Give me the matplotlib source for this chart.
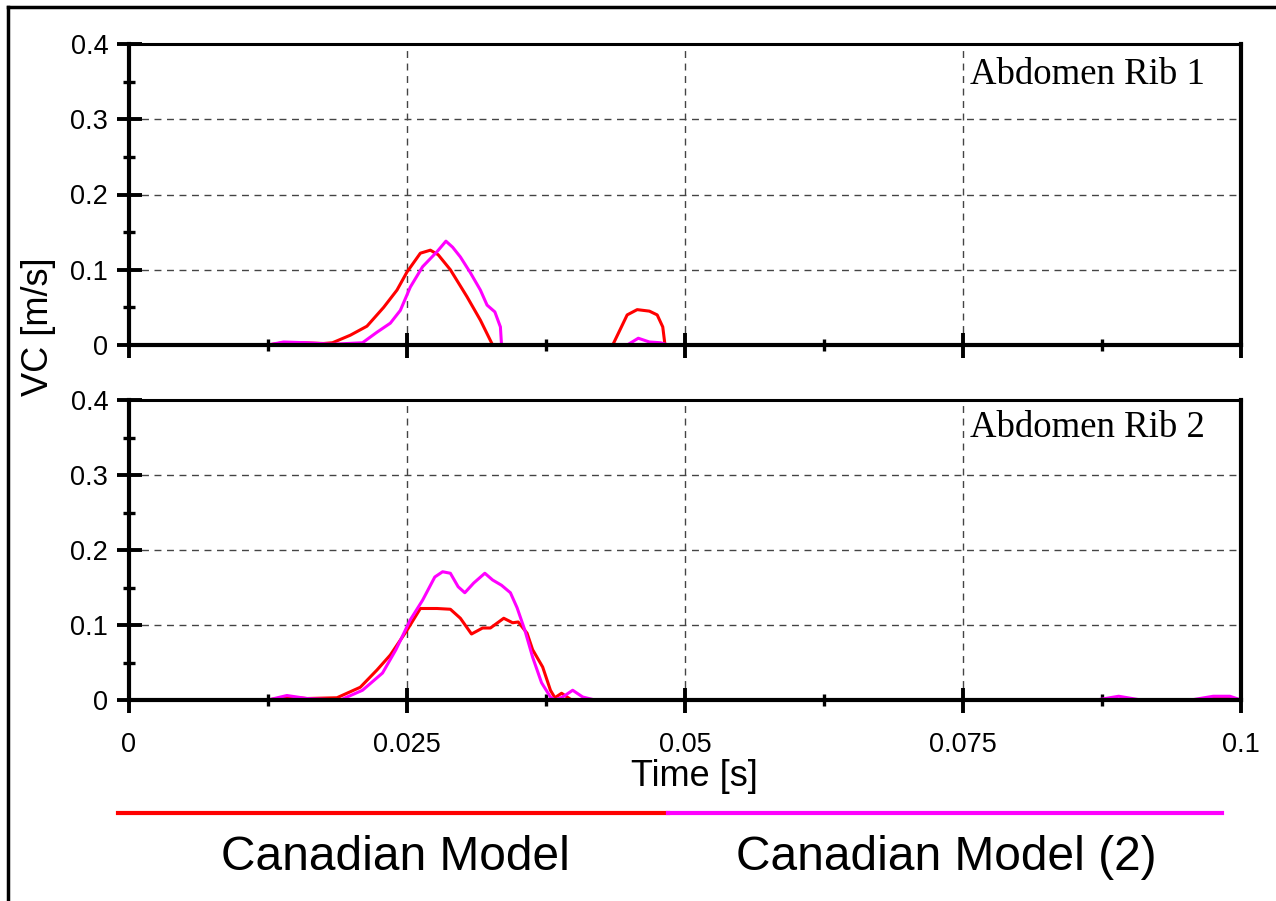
import matplotlib.pyplot as plt
from matplotlib.lines import Line2D
from matplotlib.ticker import MultipleLocator, FuncFormatter

# ---- data ----
rib1_red_t = [0, 0.0125, 0.0139, 0.0155, 0.0175, 0.0183, 0.0199, 0.0214, 0.0229, 0.0241,
              0.025, 0.0262, 0.0271, 0.0278, 0.0289, 0.0304, 0.0316, 0.0327,
              0.0435, 0.0448, 0.0457, 0.0468, 0.0475, 0.048, 0.0482, 0.1]
rib1_red_v = [0, 0, 0.003, 0.003, 0.002, 0.003, 0.013, 0.025, 0.05, 0.073,
              0.097, 0.122, 0.126, 0.12, 0.1, 0.064, 0.033, 0,
              0, 0.04, 0.047, 0.045, 0.04, 0.024, 0, 0]

rib1_mag_t = [0, 0.0125, 0.0139, 0.0160, 0.0183, 0.021, 0.0223, 0.0235, 0.0244, 0.0253,
              0.0264, 0.0277, 0.0285, 0.0291, 0.0298, 0.0307, 0.0316, 0.0322, 0.0329,
              0.0334, 0.0335, 0.0448, 0.0458, 0.0468, 0.0478, 0.0485, 0.1]
rib1_mag_v = [0, 0, 0.004, 0.003, 0.001, 0.003, 0.017, 0.029, 0.046, 0.077,
              0.104, 0.124, 0.138, 0.13, 0.117, 0.096, 0.073, 0.053, 0.044,
              0.024, 0, 0, 0.009, 0.004, 0.003, 0, 0]

rib2_red_t = [0, 0.0125, 0.0142, 0.0160, 0.0187, 0.0208, 0.0223, 0.0235, 0.025, 0.0262,
              0.0277, 0.0289, 0.0298, 0.0308, 0.0318, 0.0325, 0.0337, 0.0345, 0.035,
              0.0358, 0.0363, 0.0372, 0.0379, 0.0383, 0.0389, 0.0398, 0.096, 0.0975,
              0.099, 0.1]
rib2_red_v = [0, 0, 0.004, 0.002, 0.003, 0.017, 0.04, 0.06, 0.093, 0.122,
              0.122, 0.121, 0.109, 0.088, 0.096, 0.096, 0.109, 0.103, 0.104,
              0.089, 0.067, 0.044, 0.013, 0.003, 0.009, 0, 0, 0.002,
              0.002, 0]

rib2_mag_t = [0, 0.0125, 0.0142, 0.016, 0.019, 0.021, 0.0228, 0.024, 0.0253, 0.0264,
              0.0275, 0.0282, 0.0289, 0.0296, 0.0302, 0.031, 0.032, 0.0327, 0.0335,
              0.0343, 0.0349, 0.0356, 0.0363, 0.0371, 0.0379, 0.0383, 0.039, 0.0399,
              0.0408, 0.0419, 0.087, 0.089, 0.091, 0.0955, 0.0975, 0.099, 0.1]
rib2_mag_v = [0, 0, 0.006, 0.002, 0, 0.013, 0.036, 0.067, 0.107, 0.133,
              0.164, 0.171, 0.169, 0.151, 0.143, 0.156, 0.169, 0.16, 0.153,
              0.143, 0.123, 0.093, 0.057, 0.023, 0.004, 0, 0.004, 0.013,
              0.004, 0, 0, 0.005, 0, 0, 0.005, 0.005, 0]

panel_titles = ['Abdomen Rib 1', 'Abdomen Rib 2']
series_names = ['Canadian Model', 'Canadian Model (2)']
xticks = [0, 0.025, 0.05, 0.075, 0.1]
xtick_labels = ['0', '0.025', '0.05', '0.075', '0.1']
yticks = [0, 0.1, 0.2, 0.3, 0.4]

RED = '#ff0000'
MAG = '#ff00ff'
plt.rcParams['font.family'] = ['Liberation Sans', 'DejaVu Sans']

fig = plt.figure(figsize=(12.76, 9.01), dpi=100)
W, H = 1276, 901


def fx(px):
    return px / W


def fy(py):
    return 1 - py / H


ax1 = fig.add_axes([fx(129), fy(345), fx(1241) - fx(129), fy(44) - fy(345)])
ax2 = fig.add_axes([fx(129), fy(700), fx(1241) - fx(129), fy(400) - fy(700)])

panels = [(ax1, rib1_red_t, rib1_red_v, rib1_mag_t, rib1_mag_v, 0.897),
          (ax2, rib2_red_t, rib2_red_v, rib2_mag_t, rib2_mag_v, 0.907)]

for i, (ax, rt, rv, mt, mv, ty) in enumerate(panels):
    ax.plot(rt, rv, color=RED, lw=2.2, zorder=2, clip_on=False)
    ax.plot(mt, mv, color=MAG, lw=2.2, zorder=2, clip_on=False)
    ax.set_xlim(0, 0.1)
    ax.set_ylim(0, 0.4)
    ax.set_xticks(xticks)
    ax.set_yticks(yticks)
    ax.xaxis.set_minor_locator(MultipleLocator(0.0125))
    ax.yaxis.set_minor_locator(MultipleLocator(0.05))
    ax.yaxis.set_major_formatter(FuncFormatter(lambda v, p: '0' if v == 0 else f'{v:.1f}'))
    ax.grid(True, which='major', ls=(0, (5, 4)), color='#444444', lw=1.0)
    ax.set_axisbelow(True)
    for side in ['left', 'bottom', 'right']:
        ax.spines[side].set_linewidth(3.0)
        ax.spines[side].set_zorder(2.5)
    ax.spines['top'].set_linewidth(2.2)
    ax.tick_params(which='major', direction='inout', length=18, width=2.8,
                   labelsize=19.5, pad=6, top=False, right=False)
    ax.tick_params(which='minor', direction='inout', length=9, width=2.4,
                   top=False, right=False)
    ax.text(0.756, ty, panel_titles[i], transform=ax.transAxes, ha='left',
            va='center', fontsize=26.5, family='Liberation Serif')
    if i == 0:
        ax.set_xticklabels([])
    else:
        ax.set_xticklabels(xtick_labels)
        ax.tick_params(axis='x', pad=14)

fig.text(fx(38), fy(327), 'VC [m/s]', rotation=90, ha='center', va='center', fontsize=26)
fig.text(fx(694), fy(777), 'Time [s]', ha='center', va='center', fontsize=26)

# legend drawn below the axes
fig.add_artist(Line2D([fx(118), fx(668)], [fy(813), fy(813)], color=RED, lw=3))
fig.add_artist(Line2D([fx(668), fx(1222)], [fy(813), fy(813)], color=MAG, lw=3))
fig.text(fx(395), fy(857), series_names[0], ha='center', va='center', fontsize=34.5)
fig.text(fx(946), fy(857), series_names[1], ha='center', va='center', fontsize=34.5)

# outer frame (only top and left edges visible)
fig.add_artist(Line2D([fx(8), 1.0], [fy(7), fy(7)], color='black', lw=2.5))
fig.add_artist(Line2D([fx(8), fx(8)], [fy(7), 0.0], color='black', lw=2.5))

fig.savefig('out.png', dpi=100)
